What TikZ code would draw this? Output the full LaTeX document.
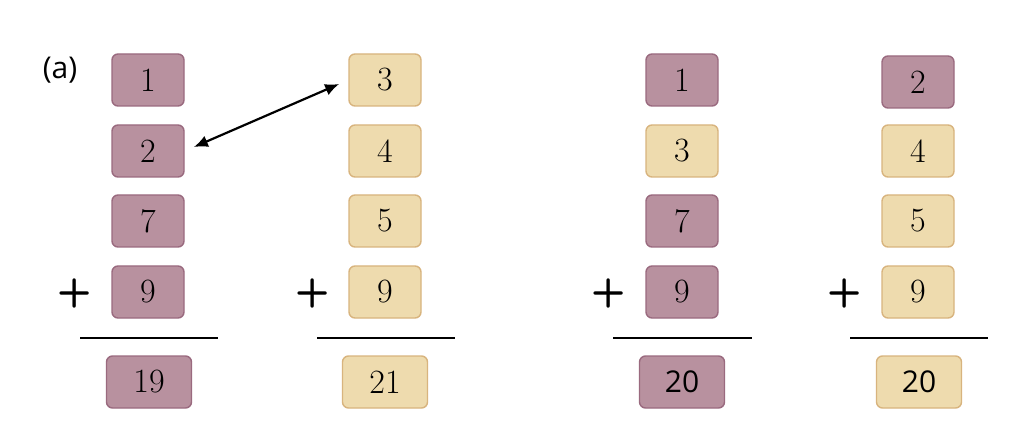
\documentclass[tikz,border=0pt]{standalone}
\usepackage{fontspec}
\usetikzlibrary{arrows.meta}
\newfontfamily\sans{Open Sans}
\definecolor{mfill}{HTML}{B8919F}
\definecolor{mdraw}{HTML}{9A6A7F}
\definecolor{tfill}{HTML}{EEDBAE}
\definecolor{tdraw}{HTML}{D8B47E}
\tikzset{
 box/.style={rounded corners=6pt, line width=1.4pt, minimum width=72pt, minimum height=52pt, inner sep=0pt, font=\fontsize{34pt}{34pt}\selectfont},
 mb/.style={box, fill=mfill, draw=mdraw},
 tb/.style={box, fill=tfill, draw=tdraw},
 res/.style={minimum width=85pt},
 plus/.style={font=\sffamily\bfseries\fontsize{40pt}{40pt}\selectfont},
 rule/.style={line width=1.6pt}
}
\begin{document}
\begin{tikzpicture}[x=1pt,y=-1pt]
\useasboundingbox[fill=white] (0,0) rectangle (1024,443);
\node[font=\sans\fontsize{30pt}{30pt}\selectfont] (lab) at (60,70) {(a)};
% column 1
\node[mb] (a1) at (148,80) {1};
\node[mb] (a2) at (148,151) {2};
\node[mb] (a3) at (148,221) {7};
\node[mb] (a4) at (148,292) {9};
\node[plus] (ap) at (75,293) {+};
\coordinate (al1) at (80,338); \coordinate (al2) at (218,338);
\draw[rule] (al1) -- (al2);
\node[mb,res] (ar) at (149,382) {19};
% column 2
\node[tb] (b1) at (385,80) {3};
\node[tb] (b2) at (385,151) {4};
\node[tb] (b3) at (385,221) {5};
\node[tb] (b4) at (385,292) {9};
\node[plus] (bp) at (313,293) {+};
\coordinate (bl1) at (317,338); \coordinate (bl2) at (455,338);
\draw[rule] (bl1) -- (bl2);
\node[tb,res] (br) at (385,382) {21};
% column 3
\node[mb] (c1) at (682,80) {1};
\node[tb] (c2) at (682,151) {3};
\node[mb] (c3) at (682,221) {7};
\node[mb] (c4) at (682,292) {9};
\node[plus] (cp) at (609,293) {+};
\coordinate (cl1) at (613,338); \coordinate (cl2) at (752,338);
\draw[rule] (cl1) -- (cl2);
\node[mb,res,font=\sans\fontsize{30pt}{30pt}\selectfont] (cr) at (682,382) {20};
% column 4
\node[mb] (d1) at (918,82) {2};
\node[tb] (d2) at (918,151) {4};
\node[tb] (d3) at (918,221) {5};
\node[tb] (d4) at (918,292) {9};
\node[plus] (dp) at (845,293) {+};
\coordinate (dl1) at (850,338); \coordinate (dl2) at (988,338);
\draw[rule] (dl1) -- (dl2);
\node[tb,res,font=\sans\fontsize{30pt}{30pt}\selectfont] (dr) at (919,382) {20};
% arrow
\draw[line width=2.2pt, {Latex[length=14pt,width=12pt]}-{Latex[length=14pt,width=12pt]}, shorten <=10pt, shorten >=10pt] (a2.east) -- (b1.west);
\end{tikzpicture}
\end{document}
